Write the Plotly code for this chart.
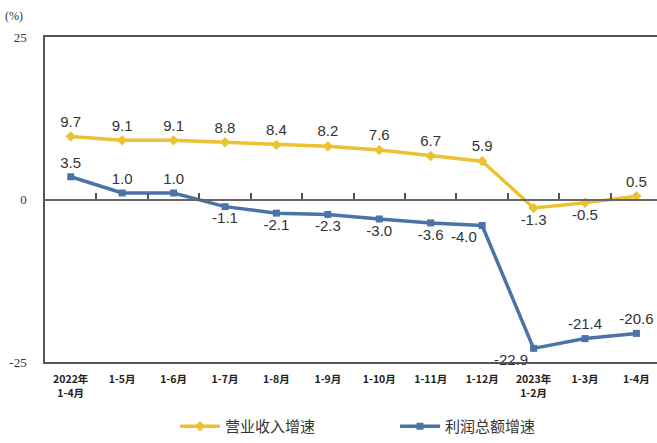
import plotly.graph_objects as go

categories = ["2022年<br>1-4月", "1-5月", "1-6月", "1-7月", "1-8月", "1-9月", "1-10月",
              "1-11月", "1-12月", "2023年<br>1-2月", "1-3月", "1-4月"]
revenue_growth = [9.7, 9.1, 9.1, 8.8, 8.4, 8.2, 7.6, 6.7, 5.9, -1.3, -0.5, 0.5]
profit_growth = [3.5, 1.0, 1.0, -1.1, -2.1, -2.3, -3.0, -3.6, -4.0, -22.9, -21.4, -20.6]
y_ticks = [25, 0, -25]

rev_pos = ["top center"] * 9 + ["bottom center", "bottom center", "top center"]
prof_pos = ["top center"] * 3 + ["bottom center"] * 5 + ["bottom left", "bottom left", "top center", "top center"]

YEL = "#EBC232"
BLU = "#4A74A6"
lab_font = dict(family="Liberation Sans Narrow, Arial Narrow, Liberation Sans", size=15, color="#333333")

x = list(range(len(categories)))
fig = go.Figure()
fig.add_trace(go.Scatter(
    x=x, y=revenue_growth, name="营业收入增速", mode="lines+markers+text",
    line=dict(color=YEL, width=3.5), marker=dict(symbol="diamond", size=8, color=YEL),
    text=[f"{v:.1f}" for v in revenue_growth], textposition=rev_pos, textfont=lab_font,
    cliponaxis=False))
fig.add_trace(go.Scatter(
    x=x, y=profit_growth, name="利润总额增速", mode="lines+markers+text",
    line=dict(color=BLU, width=3.5), marker=dict(symbol="square", size=7, color=BLU),
    text=[f"{v:.1f}" for v in profit_growth], textposition=prof_pos, textfont=lab_font,
    cliponaxis=False))
# invisible trace to carry zero-axis ticks
fig.add_trace(go.Scatter(x=x, y=[0] * len(x), xaxis="x2", mode="lines",
                         line=dict(width=0), showlegend=False, hoverinfo="skip"))

fig.update_layout(
    width=657, height=443,
    margin=dict(l=45, r=0, t=37, b=74),
    plot_bgcolor="white", paper_bgcolor="white",
    font=dict(family="Noto Sans CJK SC", color="#333333"),
    xaxis=dict(
        range=[-0.5, 11.4], tickmode="array", tickvals=x, ticktext=categories,
        showline=True, linecolor="#555555", linewidth=1.5, mirror=True,
        showgrid=False, zeroline=False, ticks="", automargin=False,
        ticklabelstandoff=7,
        tickfont=dict(family="Noto Sans CJK SC", size=10.5, color="#222222", weight="bold"),
    ),
    xaxis2=dict(
        overlaying="x", range=[-0.5, 11.4], anchor="free", position=0.5, side="top",
        showline=True, linecolor="#666666", linewidth=1.5,
        tickmode="array", tickvals=[i + 0.5 for i in x[:-1]], ticks="outside",
        ticklen=6, tickwidth=1.5, tickcolor="#555555", showticklabels=False,
        showgrid=False, zeroline=False, automargin=False,
    ),
    yaxis=dict(
        range=[-25, 25], tickmode="array", tickvals=y_ticks,
        ticktext=[str(v) for v in y_ticks],
        showline=True, linecolor="#555555", linewidth=1.5,
        showgrid=False, zeroline=False, ticks="", automargin=False,
        ticklabelstandoff=14,
        tickfont=dict(family="Liberation Serif", size=13, color="#333333"),
    ),
    legend=dict(
        orientation="h", x=0.572, xanchor="center", y=-0.2, yanchor="middle",
        font=dict(family="Noto Sans CJK SC", size=15, color="#333333"),
        itemwidth=40, entrywidth=165, entrywidthmode="pixels",
    ),
    annotations=[dict(text="(%)", xref="paper", yref="paper", x=-0.05, y=1.065,
                      xanchor="center", yanchor="middle", showarrow=False,
                      font=dict(family="Liberation Serif", size=12, color="#333333"))],
)

fig.write_html("out.html")
